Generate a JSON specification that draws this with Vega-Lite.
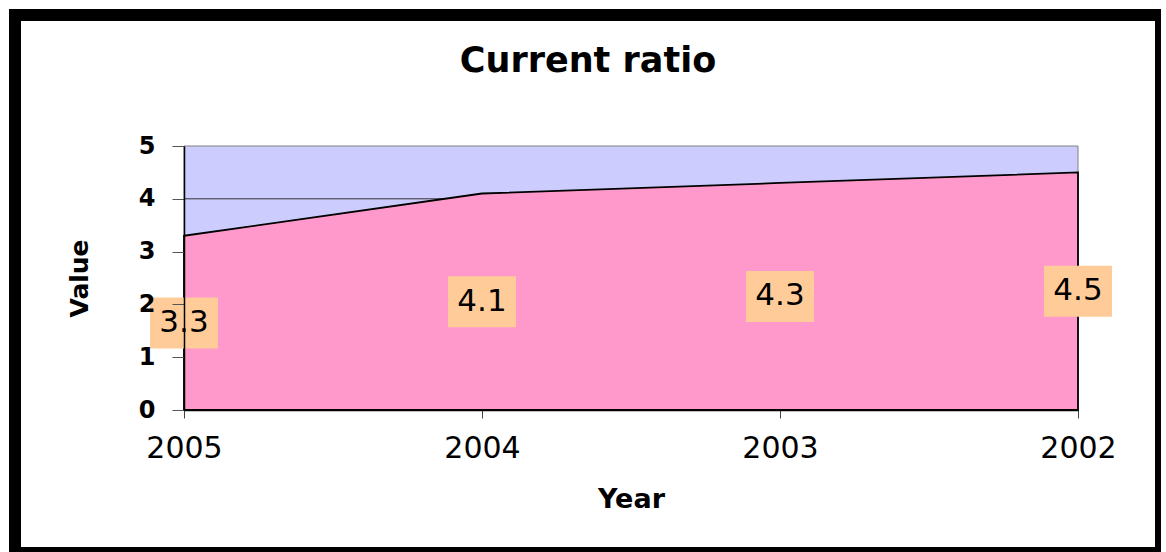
{
  "$schema": "https://vega.github.io/schema/vega-lite/v6.json",
  "width": 1146,
  "height": 538,
  "autosize": {"type": "none"},
  "padding": {"left": 15, "top": 15, "right": 0, "bottom": 0},
  "background": "white",
  "config": {
    "view": {"fill": "white", "stroke": "black", "strokeWidth": 12},
    "font": "DejaVu Sans"
  },
  "title": {
    "text": "Current ratio",
    "font": "DejaVu Sans",
    "fontSize": 35,
    "fontWeight": "bold",
    "color": "black",
    "anchor": "middle",
    "frame": "group",
    "baseline": "alphabetic",
    "offset": -92
  },
  "datasets": {
    "ratio": [
      {"Year": "2005", "Value": 3.3},
      {"Year": "2004", "Value": 4.1},
      {"Year": "2003", "Value": 4.3},
      {"Year": "2002", "Value": 4.5}
    ],
    "grid": [
      {"Level": 1},
      {"Level": 2},
      {"Level": 3},
      {"Level": 4}
    ]
  },
  "resolve": {"scale": {"y": "independent"}},
  "layer": [
    {
      "layer": [
        {
          "data": {"values": [{}]},
          "mark": {"type": "rect", "fill": "#CCCCFF", "stroke": "#808080", "strokeWidth": 1},
          "encoding": {
            "x": {"datum": "2005", "type": "ordinal", "scale": {"type": "point"}},
            "x2": {"datum": "2002"},
            "y": {"datum": 0, "type": "quantitative"},
            "y2": {"datum": 5}
          }
        },
        {
          "data": {"name": "grid"},
          "mark": {"type": "rule", "color": "#333333", "strokeWidth": 1},
          "encoding": {
            "x": {"datum": "2005", "type": "ordinal", "scale": {"type": "point"}},
            "x2": {"datum": "2002"},
            "y": {"field": "Level", "type": "quantitative"}
          }
        },
        {
          "data": {"name": "ratio"},
          "mark": {"type": "area", "color": "#FF99CC", "fill": "#FF99CC", "fillOpacity": 1, "stroke": "black", "strokeWidth": 1.8},
          "encoding": {
            "x": {
              "field": "Year",
              "type": "ordinal",
              "sort": null,
              "scale": {"type": "point", "domain": ["2005", "2004", "2003", "2002"], "range": [169, 1063], "padding": 0},
              "axis": {
                "title": "Year",
                "labelAngle": 0,
                "labelAlign": "center",
                "labelFont": "DejaVu Sans",
                "labelFontSize": 30,
                "labelColor": "black",
                "labelPadding": 30,
                "tickSize": 8,
                "tickColor": "#444444",
                "domainColor": "black",
                "domainWidth": 1.5,
                "titleFont": "DejaVu Sans",
                "titleFontSize": 27,
                "titleFontWeight": "bold",
                "titleColor": "black",
                "titlePadding": 23,
                "offset": -143,
                "zindex": 1,
                "grid": false
              }
            },
            "y": {
              "field": "Value",
              "type": "quantitative",
              "scale": {"domain": [0, 5], "range": [395, 131], "nice": false, "zero": true},
              "axis": {
                "title": "Value",
                "values": [0, 1, 2, 3, 4, 5],
                "format": "d",
                "labelFont": "DejaVu Sans",
                "labelFontSize": 24,
                "labelFontWeight": "bold",
                "labelColor": "black",
                "labelPadding": 17,
                "tickSize": 12,
                "tickColor": "#555555",
                "domainColor": "black",
                "domainWidth": 1.5,
                "titleFont": "DejaVu Sans",
                "titleFontSize": 25,
                "titleFontWeight": "bold",
                "titleColor": "black",
                "titlePadding": 46,
                "offset": -169,
                "zindex": 1,
                "grid": false
              }
            }
          }
        }
      ]
    },
    {
      "data": {"name": "ratio"},
      "layer": [
        {
          "mark": {
            "type": "point",
            "shape": "M-1,-0.75L1,-0.75L1,0.75L-1,0.75Z",
            "size": 4624,
            "filled": true,
            "color": "#FFCC99",
            "opacity": 1,
            "strokeWidth": 0
          },
          "encoding": {
            "x": {"field": "Year", "type": "ordinal", "sort": null, "scale": {"type": "point"}},
            "y": {"field": "Value", "type": "quantitative", "scale": {"domain": [0, 10], "range": [395, 131], "nice": false}, "axis": null}
          }
        },
        {
          "mark": {"type": "text", "font": "DejaVu Sans", "fontSize": 31, "color": "black", "align": "center", "baseline": "middle"},
          "encoding": {
            "x": {"field": "Year", "type": "ordinal", "sort": null, "scale": {"type": "point"}},
            "y": {"field": "Value", "type": "quantitative", "scale": {"domain": [0, 10], "range": [395, 131], "nice": false}, "axis": null},
            "text": {"field": "Value", "type": "quantitative", "format": ".1f"}
          }
        }
      ]
    }
  ]
}
